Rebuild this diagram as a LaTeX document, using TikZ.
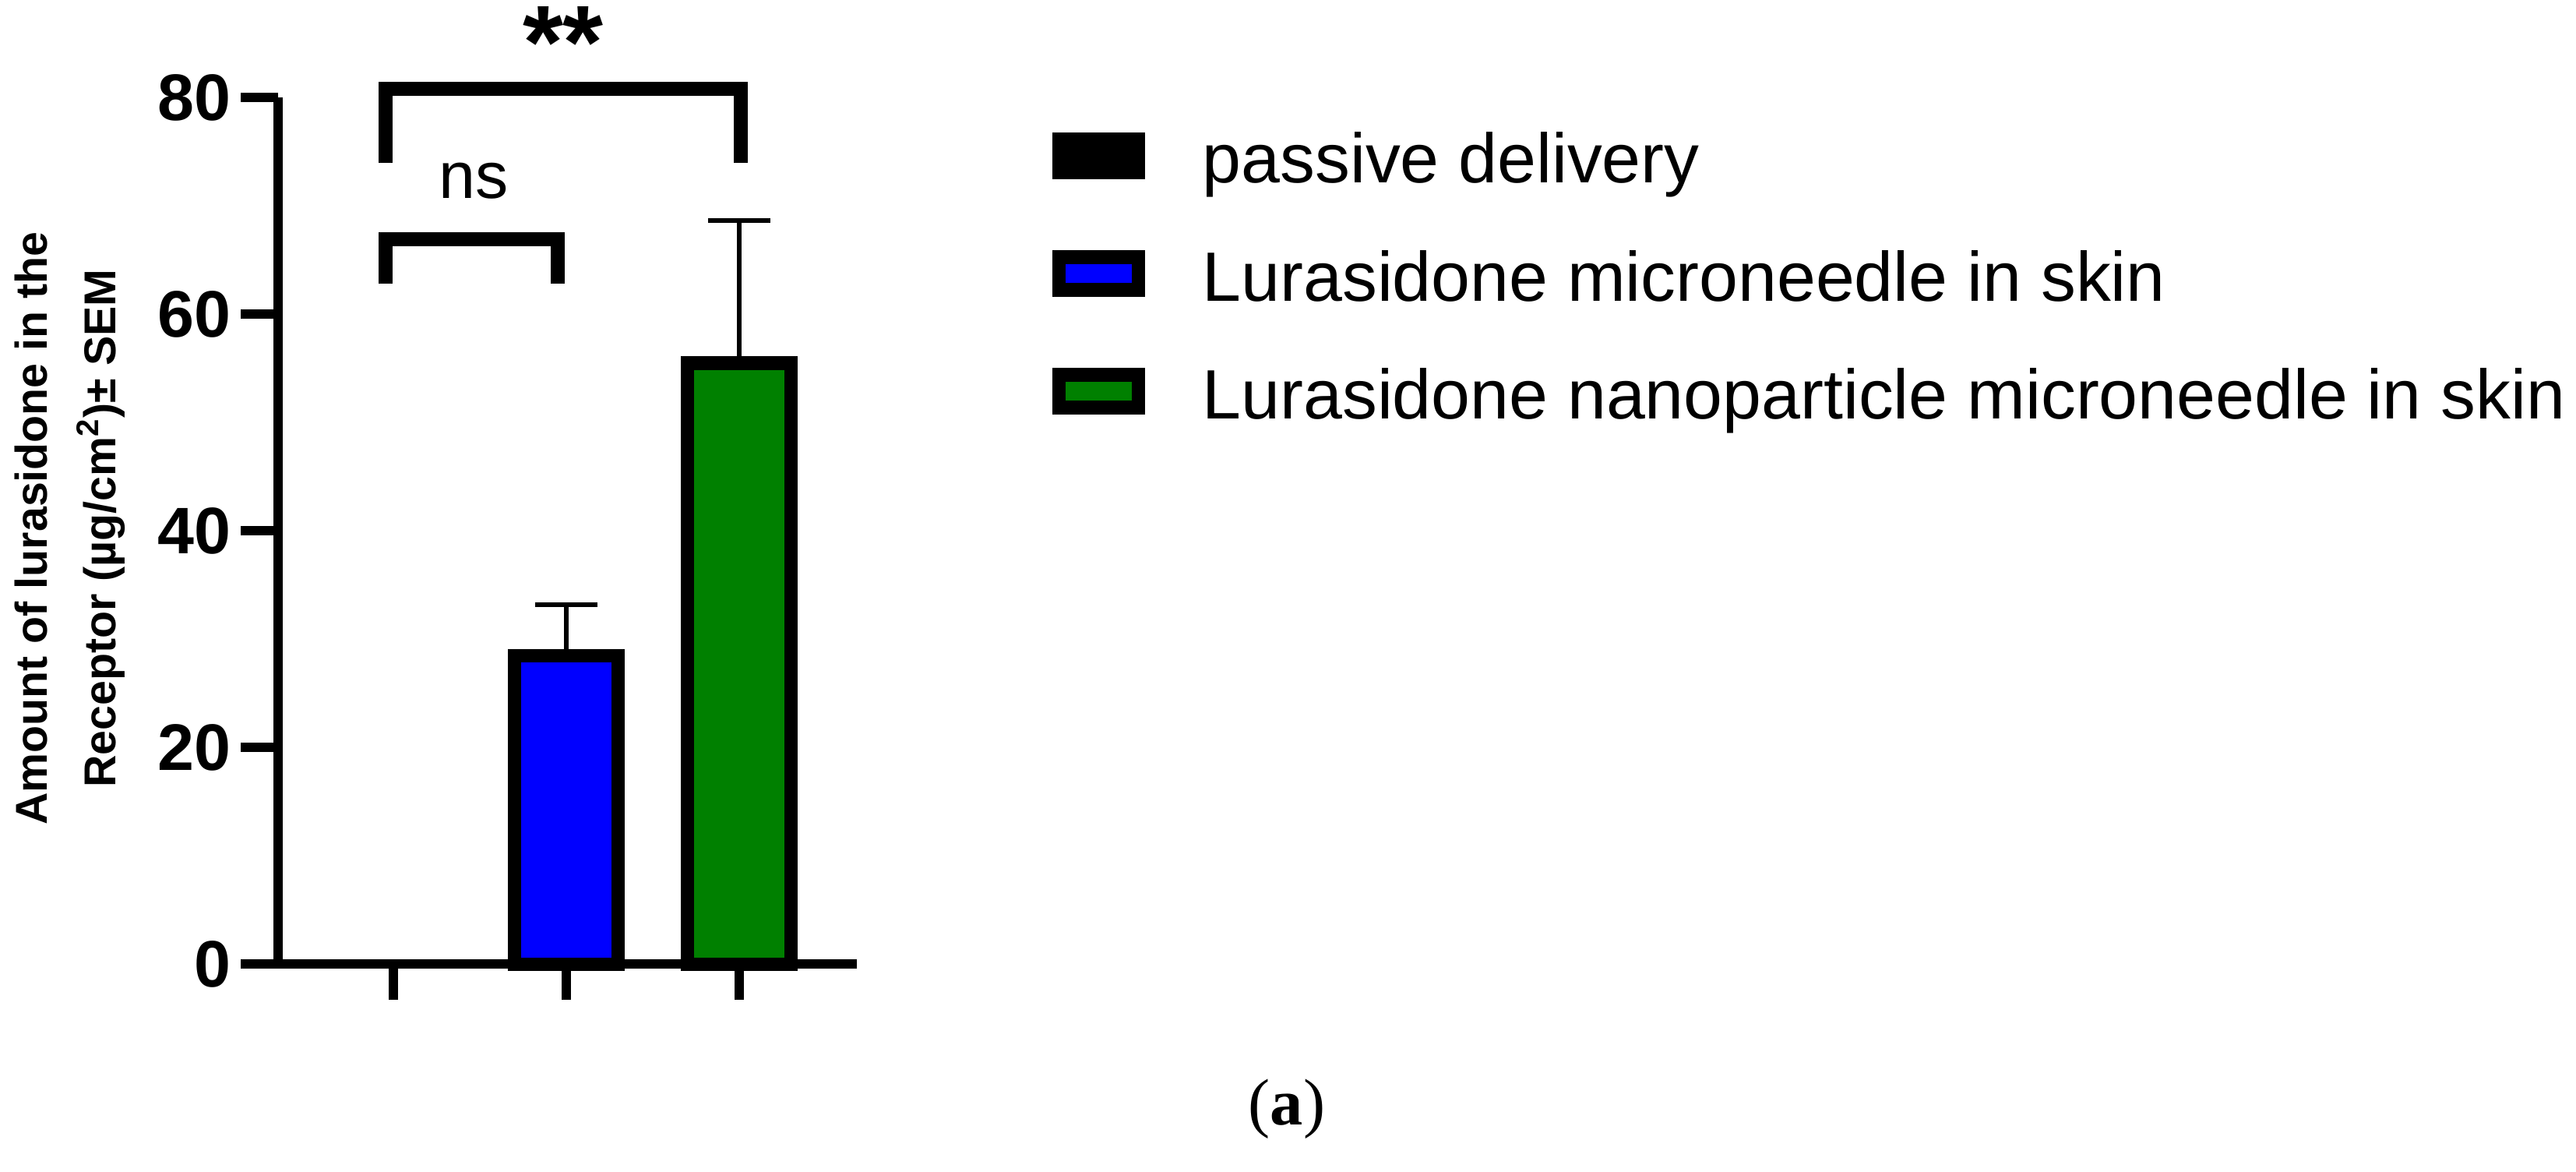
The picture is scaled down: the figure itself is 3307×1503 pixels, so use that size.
\documentclass[tikz,border=0pt]{standalone}
\usepackage{fontspec}
\setmainfont{Liberation Sans}
\newfontfamily\seriffont{Liberation Serif}
\definecolor{barblue}{RGB}{0,0,255}
\definecolor{bargreen}{RGB}{0,128,0}
\begin{document}
\begin{tikzpicture}[x=0.01cm,y=-0.01cm,
  axis/.style={line width=3.41pt},
  barbox/.style={line width=4.84pt,draw=black},
  errbar/.style={line width=1.7pt},
  brk/.style={line width=5.1pt},
  ticklab/.style={anchor=east,font=\fontsize{24}{28}\selectfont\bfseries,inner sep=0pt},
  legtext/.style={anchor=base west,font=\fontsize{25.5}{30}\selectfont,inner sep=0pt},
  legbox/.style={line width=4.9pt,draw=black}]
\useasboundingbox (0,0) rectangle (3307,1503);
% bars
\draw[barbox,fill=barblue] (660.5,1237) rectangle (793.5,841);
\draw[barbox,fill=bargreen] (882.5,1237) rectangle (1015.5,466);
% error bars
\draw[errbar] (727,841) -- (727,776) coordinate (eb);
\draw[errbar] (687,776) -- (767,776);
\draw[errbar] (949,466) -- (949,283) coordinate (eg);
\draw[errbar] (909,283) -- (989,283);
% axes
\draw[axis] (357,125) -- (357,1243);
\draw[axis] (309,1237) -- (1100,1237);
\foreach \v/\yy in {80/125,60/403,40/681,20/959}{
  \draw[axis] (309,\yy) -- (357,\yy);
}
\foreach \v/\yy in {80/125,60/403,40/681,20/959,0/1237}{
  \node[ticklab] (t\v) at (297,\yy) {\v};
}
\foreach \xx in {505,727,949}{
  \draw[axis] (\xx,1237) -- (\xx,1283);
}
% y label
\node[rotate=90,font=\fontsize{16.3}{19}\selectfont\bfseries,align=center,inner sep=0pt] (ylab) at (90,678)
  {Amount of lurasidone in the\\[6pt] Receptor (µg/cm\textsuperscript{2})± SEM};
% brackets
\draw[brk] (495,364) -- (495,307) -- (716,307) -- (716,364);
\node[font=\fontsize{24}{28}\selectfont,inner sep=0pt] (ns) at (608,232) {ns};
\draw[brk] (495,209) -- (495,114) -- (951,114) -- (951,209);
\node[font=\fontsize{38}{40}\selectfont\bfseries,inner sep=0pt] (st) at (723,55) {**};
% legend
\draw[legbox,fill=black] (1359.5,179) rectangle (1461.5,221);
\draw[legbox,fill=barblue] (1359.5,330) rectangle (1461.5,372);
\draw[legbox,fill=bargreen] (1359.5,481) rectangle (1461.5,523);
\node[legtext] (l1) at (1543,235) {passive delivery};
\node[legtext] (l2) at (1543,386) {Lurasidone microneedle in skin};
\node[legtext] (l3) at (1543,537) {Lurasidone nanoparticle microneedle in skin};
% caption
\node[font=\seriffont\fontsize{24}{28}\selectfont,inner sep=0pt] (cap) at (1652,1423) {(\textbf{a})};
\end{tikzpicture}
\end{document}
